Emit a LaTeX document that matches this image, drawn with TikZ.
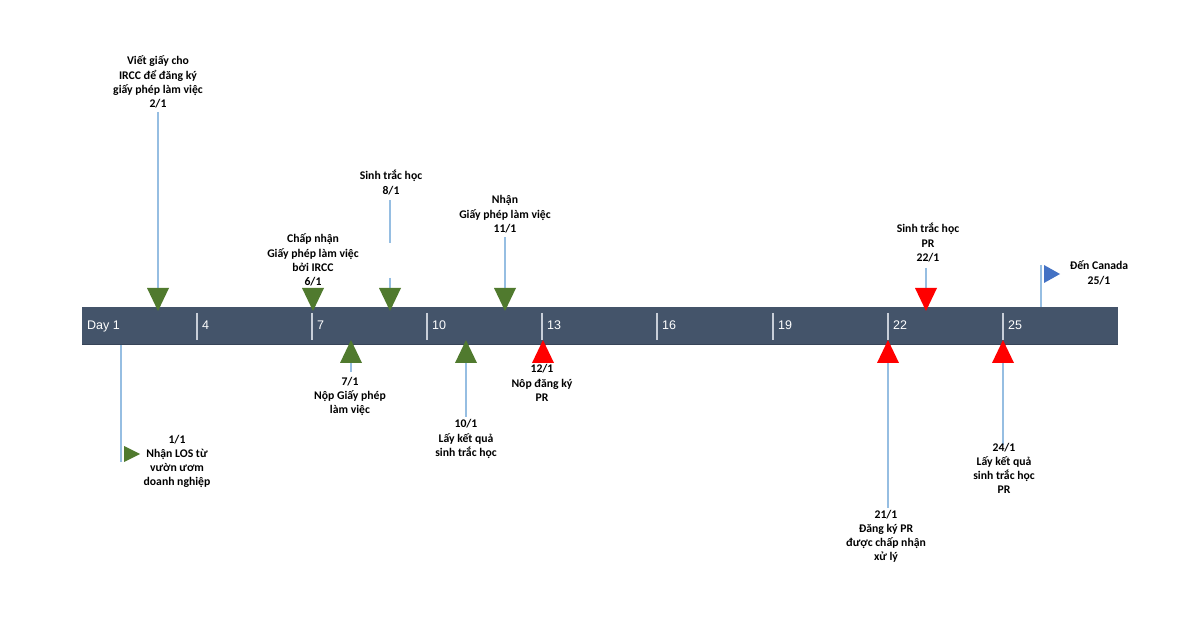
\documentclass[tikz,border=0pt]{standalone}
\usepackage{fontspec}
\setmainfont{Carlito}
\newfontfamily\barfont{Liberation Sans}
\definecolor{barcol}{RGB}{68,84,106}
\definecolor{bardark}{RGB}{55,68,88}
\definecolor{mkgreen}{RGB}{80,122,46}
\definecolor{mkred}{RGB}{255,0,0}
\definecolor{mkblue}{RGB}{68,114,196}
\definecolor{leader}{RGB}{150,190,226}
\definecolor{tickcol}{RGB}{200,206,216}
\newcommand\ml[1]{\vtop{\halign{\hfil##\hfil\cr#1\crcr}}}
\tikzset{
  lbl/.style={inner sep=0pt, anchor=base, font=\bfseries\fontsize{11.7}{14.3}\selectfont},
  daylbl/.style={inner sep=0pt, anchor=base west, text=white, font=\barfont\fontsize{12.5}{14}\selectfont},
  leaderline/.style={draw=leader, line width=1.1pt},
  tickline/.style={draw=tickcol, line width=1.3pt},
}
\newcommand\downtri[3]{\fill[#1] (#2,#3) ++(-11,0) -- ++(22,0) -- ++(-11,23) -- cycle;}
\newcommand\uptri[3]{\fill[#1] (#2,#3) ++(-11,0) -- ++(22,0) -- ++(-11,-23) -- cycle;}
\begin{document}
\begin{tikzpicture}[x=1pt,y=-1pt]
\useasboundingbox[fill=white] (0,0) rectangle (1200,628);
% bar
\fill[barcol] (82,307) rectangle (1118,345);
\draw[bardark, line width=0.8pt] (82,344.6) -- (1118,344.6);
% ticks
\foreach \x in {197,312,427,542,657,773,888,1003}
  \draw[tickline] (\x,313) -- (\x,340);
\node[daylbl] (d1) at (87,330) {Day 1};
\node[daylbl] (d4) at (202,330) {4};
\node[daylbl] (d7) at (317,330) {7};
\node[daylbl] (d10) at (432,330) {10};
\node[daylbl] (d13) at (547,330) {13};
\node[daylbl] (d16) at (662,330) {16};
\node[daylbl] (d19) at (778,330) {19};
\node[daylbl] (d22) at (893,330) {22};
\node[daylbl] (d25) at (1008,330) {25};

% ---------- above the bar ----------
% 2/1
\coordinate (a2s) at (158,112); \coordinate (a2e) at (158,288);
\draw[leaderline] (a2s) -- (a2e);
\downtri{mkgreen}{158}{288}
\node[lbl] (t2) at (158,65) {\ml{Viết giấy cho\cr IRCC để đăng ký\cr giấy phép làm việc\cr 2/1}};
% 6/1
\downtri{mkgreen}{313}{288}
\node[lbl] (t6) at (313,243) {\ml{Chấp nhận\cr Giấy phép làm việc\cr bởi IRCC\cr 6/1}};
% 8/1
\coordinate (a8s) at (390,200); \coordinate (a8m) at (390,243);
\coordinate (a8n) at (390,278); \coordinate (a8e) at (390,288);
\draw[leaderline] (a8s) -- (a8m);
\draw[leaderline] (a8n) -- (a8e);
\downtri{mkgreen}{390}{288}
\node[lbl] (t8) at (391,180) {\ml{Sinh trắc học\cr 8/1}};
% 11/1
\coordinate (a11s) at (505,237); \coordinate (a11e) at (505,288);
\draw[leaderline] (a11s) -- (a11e);
\downtri{mkgreen}{505}{288}
\node[lbl] (t11) at (505,204) {\ml{Nhận\cr Giấy phép làm việc\cr 11/1}};
% 22/1
\coordinate (a22s) at (926,268); \coordinate (a22e) at (926,288);
\draw[leaderline] (a22s) -- (a22e);
\downtri{mkred}{926}{288}
\node[lbl] (t22) at (928,233) {\ml{Sinh trắc học\cr PR\cr 22/1}};
% 25/1 flag
\coordinate (a25s) at (1041,265); \coordinate (a25e) at (1041,307);
\draw[leaderline] (a25s) -- (a25e);
\fill[mkblue] (1044,265) -- (1060,274) -- (1044,283) -- cycle;
\node[lbl] (t25) at (1099,270) {\ml{Đến Canada\cr 25/1}};

% ---------- below the bar ----------
% 1/1
\coordinate (b1s) at (121,345); \coordinate (b1e) at (121,462);
\draw[leaderline] (b1s) -- (b1e);
\fill[mkgreen] (124,446) -- (140,454) -- (124,462) -- cycle;
\node[lbl] (t1) at (177,443) {\ml{1/1\cr Nhận LOS từ\cr vườn ươm\cr doanh nghiệp}};
% 7/1
\coordinate (b7s) at (351,363); \coordinate (b7e) at (351,372);
\draw[leaderline] (b7s) -- (b7e);
\uptri{mkgreen}{351}{363}
\node[lbl] (t7) at (350,385) {\ml{7/1\cr Nộp Giấy phép\cr làm việc}};
% 10/1
\coordinate (b10s) at (466,363); \coordinate (b10e) at (466,417);
\draw[leaderline] (b10s) -- (b10e);
\uptri{mkgreen}{466}{363}
\node[lbl] (t10) at (466,428) {\ml{10/1\cr Lấy kết quả\cr sinh trắc học}};
% 12/1
\uptri{mkred}{543}{363}
\node[lbl] (t12) at (542,373) {\ml{12/1\cr Nôp đăng ký\cr PR}};
% 21/1
\coordinate (b21s) at (888,363); \coordinate (b21e) at (888,508);
\draw[leaderline] (b21s) -- (b21e);
\uptri{mkred}{888}{363}
\node[lbl] (t21) at (886,518) {\ml{21/1\cr Đăng ký PR\cr được chấp nhận\cr xử lý}};
% 24/1
\coordinate (b24s) at (1003,363); \coordinate (b24e) at (1003,445);
\draw[leaderline] (b24s) -- (b24e);
\uptri{mkred}{1003}{363}
\node[lbl] (t24) at (1004,451) {\ml{24/1\cr Lấy kết quả\cr sinh trắc học\cr PR}};
\end{tikzpicture}
\end{document}
